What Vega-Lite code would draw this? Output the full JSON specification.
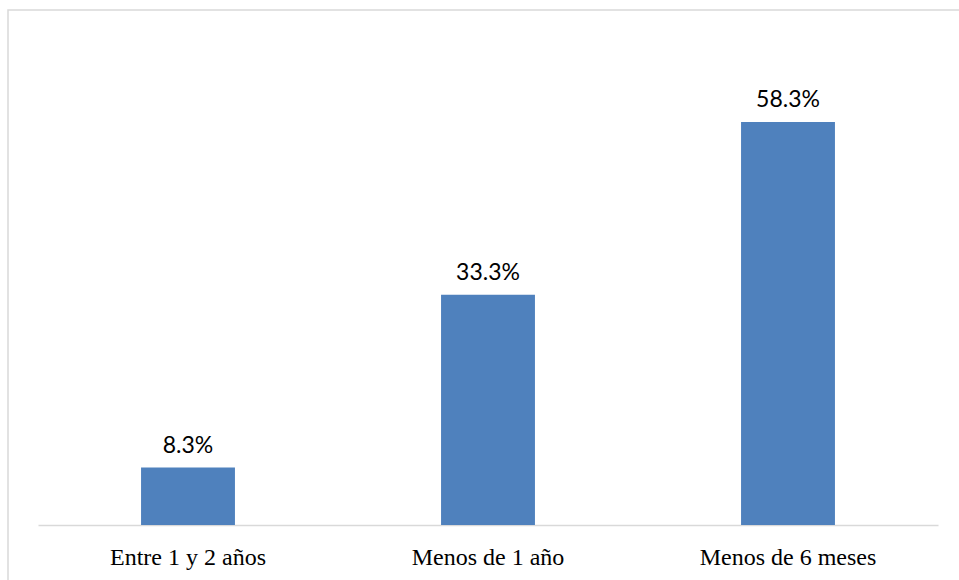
{
  "$schema": "https://vega.github.io/schema/vega-lite/v6.json",
  "autosize": {"type": "none"},
  "width": 960,
  "height": 580,
  "padding": {"left": 8, "top": 10, "right": 0, "bottom": 0},
  "background": "white",
  "config": {"view": {"stroke": "#d9d9d9", "strokeWidth": 1.5}},
  "data": {
    "values": [
      {"categoria": "Entre 1 y 2 años", "pct": 0.083},
      {"categoria": "Menos de 1 año", "pct": 0.333},
      {"categoria": "Menos de 6 meses", "pct": 0.583}
    ]
  },
  "encoding": {
    "x": {
      "field": "categoria",
      "type": "nominal",
      "sort": null,
      "scale": {"range": [30, 930], "paddingInner": 0.687, "paddingOuter": 0.3435},
      "axis": {
        "title": null,
        "orient": "bottom",
        "offset": -65,
        "labelAngle": 0,
        "ticks": false,
        "tickSize": 0,
        "domainColor": "#d9d9d9",
        "domainWidth": 1.5,
        "labelFont": "Liberation Serif",
        "labelFontSize": 24,
        "labelColor": "#000000",
        "labelBaseline": "alphabetic",
        "labelPadding": 39
      }
    },
    "y": {
      "field": "pct",
      "type": "quantitative",
      "scale": {"domain": [0, 0.7], "range": [515, 31], "nice": false},
      "axis": null
    }
  },
  "layer": [
    {"mark": {"type": "bar", "color": "#4f81bd"}},
    {
      "mark": {"type": "text", "font": "Lato", "fontSize": 23, "color": "#000000", "baseline": "alphabetic", "dy": -15},
      "encoding": {"text": {"field": "pct", "type": "quantitative", "format": ".1%"}}
    }
  ]
}
